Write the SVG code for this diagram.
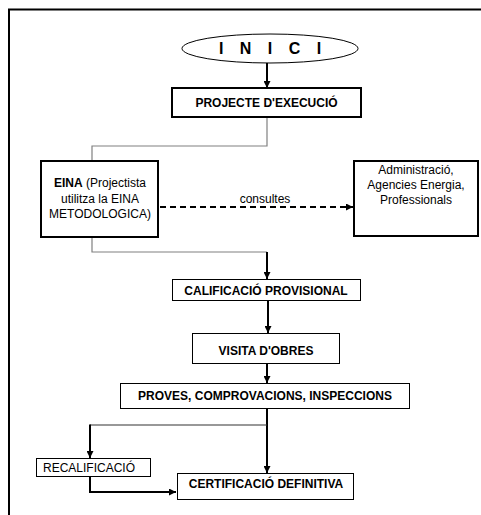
<svg xmlns="http://www.w3.org/2000/svg" width="481" height="515" viewBox="0 0 481 515">
  <style>
    .box { fill: #fff; stroke: #000; }
    .thick { stroke-width: 2; }
    .thin { stroke-width: 1; }
    .t { font-family: "Liberation Sans", Arial, sans-serif; font-size: 12px; fill: #000; }
    .b { font-weight: bold; }
    .c { text-anchor: middle; }
    .link { fill: none; stroke: #000; stroke-width: 2; }
    .grey { fill: none; stroke: #808080; stroke-width: 1.2; }
    .dark { fill: none; stroke: #333; stroke-width: 1.2; }
    .dash { fill: none; stroke: #000; stroke-width: 2; stroke-dasharray: 6 4; }
  </style>
  <defs>
    <marker id="ah" viewBox="0 0 10 10" refX="10" refY="5" markerWidth="7" markerHeight="7" markerUnits="userSpaceOnUse" orient="auto">
      <path d="M0,0 L10,5 L0,10 Z" fill="#000"/>
    </marker>
  </defs>

  <rect width="481" height="515" fill="#fff"/>
  <!-- page frame, cut at right and bottom -->
  <path d="M9,515 V9.5 H481" fill="none" stroke="#000" stroke-width="2"/>

  <g id="connectors">
    <line class="link" x1="267" y1="63" x2="267" y2="88" marker-end="url(#ah)"/>
    <path class="grey" d="M267,117 V146 H92 V161"/>
    <path class="grey" d="M92,237 V252 H267"/>
    <line class="link" x1="267" y1="252" x2="267" y2="279" marker-end="url(#ah)"/>
    <line class="dash" x1="160" y1="207" x2="353" y2="207" marker-end="url(#ah)"/>
    <text class="t c" x="265" y="203">consultes</text>
    <line class="link" x1="268" y1="301" x2="268" y2="333" marker-end="url(#ah)"/>
    <line class="link" x1="267" y1="364" x2="267" y2="383" marker-end="url(#ah)"/>
    <line class="link" x1="267" y1="409" x2="267" y2="473" marker-end="url(#ah)"/>
    <path class="dark" d="M267,425 H90"/>
    <line class="link" x1="90" y1="424.5" x2="90" y2="458" marker-end="url(#ah)"/>
    <path class="link" d="M90,477 V492 H176" marker-end="url(#ah)"/>
  </g>

  <g id="inici">
    <ellipse cx="270" cy="48.5" rx="88" ry="14.5" fill="#fff" stroke="#000" stroke-width="1"/>
    <text class="t b c" x="273" y="54" style="font-size:16px; letter-spacing:6px">I N I C I</text>
  </g>

  <g id="projecte">
    <rect class="box thick" x="172" y="88" width="189" height="29"/>
    <text class="t b c" x="266.5" y="107">PROJECTE D'EXECUCIÓ</text>
  </g>

  <g id="eina">
    <rect class="box thick" x="41" y="161" width="117" height="76"/>
    <text class="t c" x="100" y="187"><tspan class="b">EINA</tspan> (Projectista</text>
    <text class="t c" x="100" y="203">utilitza la EINA</text>
    <text class="t c" x="100" y="218">METODOLOGICA)</text>
  </g>

  <g id="consultats">
    <rect class="box thick" x="354" y="161" width="124" height="75"/>
    <text class="t c" x="416" y="174">Administració,</text>
    <text class="t c" x="416" y="189">Agencies Energia,</text>
    <text class="t c" x="416" y="204">Professionals</text>
  </g>

  <g id="calificacio">
    <rect class="box thin" x="172.5" y="279.5" width="188" height="21"/>
    <text class="t b c" x="266" y="295">CALIFICACIÓ PROVISIONAL</text>
  </g>

  <g id="visita">
    <rect class="box thin" x="192.5" y="333.5" width="147" height="30"/>
    <text class="t b c" x="266" y="355">VISITA D'OBRES</text>
  </g>

  <g id="proves">
    <rect class="box thin" x="120.5" y="383.5" width="289" height="25"/>
    <text class="t b c" x="265" y="400">PROVES, COMPROVACIONS, INSPECCIONS</text>
  </g>

  <g id="recalificacio">
    <rect class="box thin" x="36.5" y="458.5" width="114" height="18"/>
    <text class="t" x="43" y="472">RECALIFICACIÓ</text>
  </g>

  <g id="certificacio">
    <rect class="box thin" x="177.5" y="473.5" width="176" height="26"/>
    <text class="t b c" x="266" y="488">CERTIFICACIÓ DEFINITIVA</text>
  </g>
</svg>
